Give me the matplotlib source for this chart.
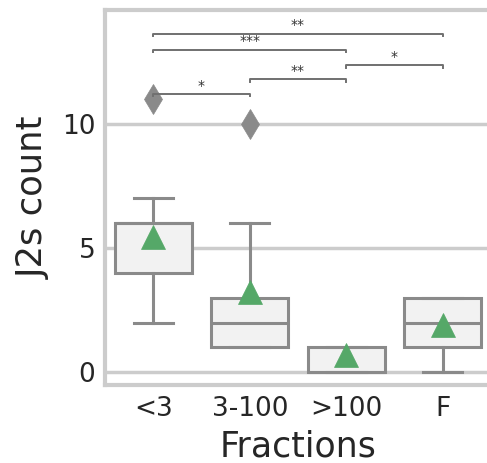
import matplotlib
matplotlib.use("Agg")
import matplotlib.pyplot as plt

categories = ["<3", "3-100", ">100", "F"]
q1 = [4, 1, 0, 1]
median = [6, 2, 0, 2]
q3 = [6, 3, 1, 3]
whisker_low = [2, 1, 0, 0]
whisker_high = [7, 6, 1, 3]
means = [5.45, 3.22, 0.70, 1.9]
fliers = [[11], [10], [], []]

# significance brackets: (i, j, label, height)
pairs = [(0, 1), (1, 2), (2, 3), (0, 2), (0, 3)]
pair_labels = ["*", "**", "*", "***", "**"]
pair_heights = [11.22, 11.8, 12.38, 13.0, 13.65]

edge = "#8a8a8a"
face = "#f2f2f2"
green = "#55a868"
spine_c = "#cccccc"
text_c = "#262626"

fig = plt.figure(figsize=(4.87, 4.63), dpi=100)
ax = fig.add_axes([105 / 487, 1 - 385 / 463, (491 - 105) / 487, (385 - 10) / 463])

stats = []
for k in range(len(categories)):
    stats.append(dict(q1=q1[k], med=median[k], q3=q3[k], whislo=whisker_low[k],
                      whishi=whisker_high[k], mean=means[k], fliers=fliers[k],
                      label=categories[k]))

lw = 2.2
ax.bxp(stats, positions=range(len(categories)), widths=0.8, patch_artist=True,
       showmeans=True, showfliers=True,
       boxprops=dict(facecolor=face, edgecolor=edge, linewidth=lw),
       whiskerprops=dict(color=edge, linewidth=lw),
       capprops=dict(color=edge, linewidth=lw),
       medianprops=dict(color=edge, linewidth=lw),
       meanprops=dict(marker="^", markerfacecolor=green, markeredgecolor=green,
                      markersize=17.5, markeredgewidth=0.5),
       flierprops=dict(marker="d", markerfacecolor=edge, markeredgecolor=edge,
                       markersize=15.3, markeredgewidth=0.5),
       zorder=3)

ax.set_xlim(-0.5, len(categories) - 0.5)
ax.set_ylim(-0.52, 14.6)
ax.set_yticks([0, 5, 10])
ax.set_xticks(range(len(categories)))
ax.set_xticklabels(categories)
ax.yaxis.grid(True, color=spine_c, linewidth=2.5, zorder=0)
ax.xaxis.grid(False)
ax.set_axisbelow(True)
for s in ax.spines.values():
    s.set_color(spine_c)
    s.set_linewidth(3)
ax.tick_params(axis="both", length=0, labelsize=19, colors=text_c)
ax.tick_params(axis="y", pad=7)
ax.tick_params(axis="x", pad=8)
ax.set_xlabel("Fractions", fontsize=25, color=text_c, labelpad=5)
ax.set_ylabel("J2s count", fontsize=25.5, color=text_c, labelpad=8)

tick_h = 0.1
for (i, j), lab, h in zip(pairs, pair_labels, pair_heights):
    ax.plot([i, i, j, j], [h - tick_h, h, h, h - tick_h], color="#707070",
            linewidth=1.4, zorder=4, clip_on=False)
    ax.text((i + j) / 2, h + 0.05, lab, ha="center", va="bottom", fontsize=10,
            color="#333333")

fig.savefig("out.png", dpi=100)
